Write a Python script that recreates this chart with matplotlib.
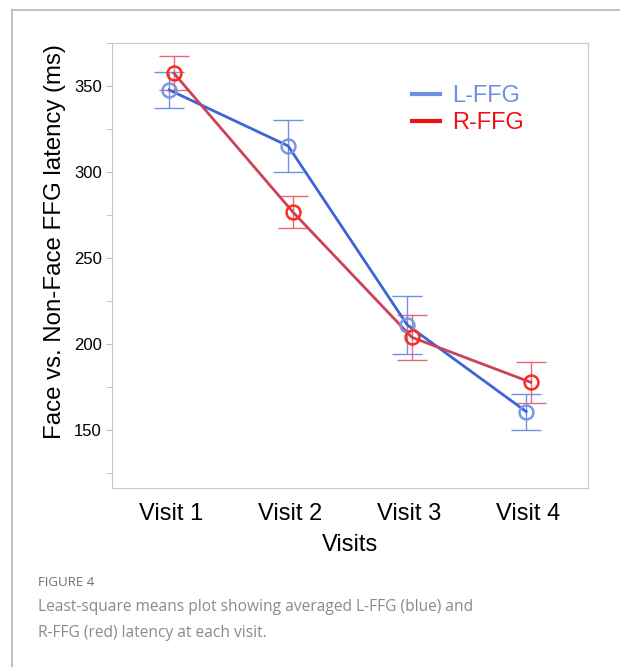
import numpy as np
import matplotlib.pyplot as plt
from matplotlib.lines import Line2D

plt.rcParams['font.family'] = ['Liberation Sans', 'DejaVu Sans']

visits = ['Visit 1', 'Visit 2', 'Visit 3', 'Visit 4']
l_ffg = [347.7, 315.1, 211.0, 160.5]
l_ffg_err = [10.5, 15.0, 17.0, 10.5]
r_ffg = [357.4, 276.6, 203.7, 177.5]
r_ffg_err = [10.0, 9.5, 13.0, 12.0]

fig = plt.figure(figsize=(6.2, 6.67), dpi=100)

# gray frame lines of the page
fig.add_artist(Line2D([12/620, 12/620], [0, 1 - 10/667], color='#b4b4b4', lw=1.2))
fig.add_artist(Line2D([12/620, 1], [1 - 10/667, 1 - 10/667], color='#b4b4b4', lw=1.2))

ax = fig.add_axes([112/620, 1 - 488/667, 476/620, 445/667])
x = np.arange(len(visits))

ax.errorbar(x - 0.02, l_ffg, yerr=l_ffg_err, fmt='none', ecolor='#7090e0',
            elinewidth=1.0, capsize=11, capthick=1.0)
ax.errorbar(x + 0.02, r_ffg, yerr=r_ffg_err, fmt='none', ecolor='#e56a78',
            elinewidth=1.0, capsize=11, capthick=1.0)
ax.plot(x - 0.02, l_ffg, color='#3a66d8', lw=2.0)
ax.plot(x + 0.02, r_ffg, color='#cc4256', lw=2.0)
ax.plot(x - 0.02, l_ffg, 'o', ms=10, mfc='none', mec='#7898e6', mew=1.8)
ax.plot(x + 0.02, r_ffg, 'o', ms=10, mfc='none', mec='#ff2a1a', mew=1.8)

ax.set_xlim(-0.5, 3.5)
ax.set_ylim(116, 375)
ax.set_yticks([150, 200, 250, 300, 350])
ax.set_yticks(np.arange(125, 376, 25), minor=True)
ax.set_xticks(x)
ax.set_xticklabels(visits, fontsize=17)
ax.tick_params(axis='x', length=0, pad=11)
ax.tick_params(axis='y', which='both', length=4, color='#c0c0c0', labelsize=12)
for s in ax.spines.values():
    s.set_color('#c8c8c8')
ax.set_xlabel('Visits', fontsize=17, labelpad=6)
ax.set_ylabel('Face vs. Non-Face FFG latency (ms)', fontsize=17.3)
ax.yaxis.set_label_coords(-0.097, 0.553)

handles = [Line2D([], [], color='#6f8fe0', lw=3), Line2D([], [], color='#ee1111', lw=3)]
ax.legend(handles, ['L-FFG', 'R-FFG'], loc='upper left', bbox_to_anchor=(0.585, 0.953),
          frameon=False, fontsize=17, handlelength=1.2, handletextpad=0.5,
          labelspacing=0.2, labelcolor=['#6f8fe0', '#ee1111'])

fig.text(38/620, 1 - 582/667, 'FIGURE 4', fontsize=9.5, color='#707070',
         family=['Open Sans', 'DejaVu Sans'], va='center')
fig.text(38/620, 1 - 620/667,
         'Least-square means plot showing averaged L-FFG (blue) and\nR-FFG (red) latency at each visit.',
         fontsize=11.2, color='#8a8a8a', family=['Open Sans', 'DejaVu Sans'],
         va='center', linespacing=1.8)

fig.savefig('out.png', dpi=100)
